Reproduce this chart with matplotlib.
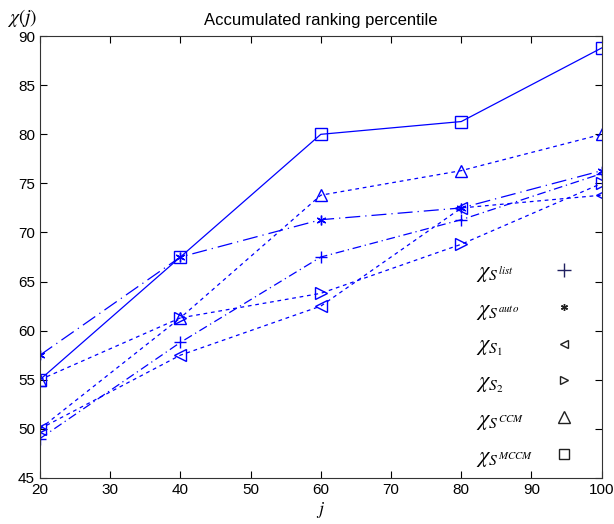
import matplotlib
matplotlib.use("Agg")
import matplotlib.pyplot as plt
from matplotlib.lines import Line2D

plt.rcParams['font.family'] = ['Liberation Sans', 'DejaVu Sans']
plt.rcParams['mathtext.fontset'] = 'stix'

j = [20, 40, 60, 80, 100]
chi_list = [49.0, 58.8, 67.5, 71.3, 76.0]
chi_auto = [57.5, 67.5, 71.3, 72.5, 76.3]
chi_s1 = [50.0, 57.5, 62.5, 72.5, 73.8]
chi_s2 = [50.0, 61.3, 63.8, 68.8, 75.0]
chi_ccm = [55.0, 61.3, 73.8, 76.3, 80.0]
chi_mccm = [55.0, 67.5, 80.0, 81.3, 88.8]

labels = [r'$\chi_{S^{list}}$', r'$\chi_{S^{auto}}$', r'$\chi_{S_1}$',
          r'$\chi_{S_2}$', r'$\chi_{S^{CCM}}$', r'$\chi_{S^{MCCM}}$']

fig = plt.figure(figsize=(6.14, 5.24), dpi=100)
ax = fig.add_axes([0.065, 0.088, 0.915, 0.843])

c = 'blue'
lw = 0.9
ms = 8
asterisk = (6, 2, 0)

ax.plot(j, chi_list, color=c, lw=lw, dashes=(7, 3, 1, 3), marker='+', ms=ms, mfc='none')
ax.plot(j, chi_auto, color=c, lw=lw, dashes=(12, 4, 1, 4), marker=asterisk, ms=ms - 1, mfc='none')
ax.plot(j, chi_s1, color=c, lw=lw, dashes=(3, 3), marker='<', ms=ms, mfc='none')
ax.plot(j, chi_s2, color=c, lw=lw, dashes=(3, 3), marker='>', ms=ms, mfc='none')
ax.plot(j, chi_ccm, color=c, lw=lw, dashes=(3, 3), marker='^', ms=ms, mfc='none')
ax.plot(j, chi_mccm, color=c, lw=lw, ls='-', marker='s', ms=ms, mfc='none')

mk_handles = [
    Line2D([], [], ls='none', marker='+', ms=10, color='#202060', mfc='none'),
    Line2D([], [], ls='none', marker=asterisk, ms=5, color='#202020', mfc='none'),
    Line2D([], [], ls='none', marker='<', ms=6, color='#202020', mfc='none'),
    Line2D([], [], ls='none', marker='>', ms=6, color='#202020', mfc='none'),
    Line2D([], [], ls='none', marker='^', ms=8, color='#202020', mfc='none'),
    Line2D([], [], ls='none', marker='s', ms=7, color='#202020', mfc='none'),
]
blank_handles = [Line2D([], [], ls='none') for _ in labels]

anchor = (0.74, -0.025)
common = dict(loc='lower left', bbox_to_anchor=anchor, frameon=False,
              fontsize=16, labelspacing=0.62)

# legend with the markers; its texts are invisible and serve to align markers
leg_m = ax.legend(mk_handles, labels, markerfirst=False, handlelength=1.0,
                  handletextpad=0.9, **common)
for t in leg_m.get_texts():
    t.set_alpha(0)
ax.add_artist(leg_m)

# legend with the visible, left-aligned texts
leg_t = ax.legend(blank_handles, labels, markerfirst=True, handlelength=0,
                  handletextpad=0, **common)

ax.set_xlim(20, 100)
ax.set_ylim(45, 90)
ax.set_xticks(list(range(20, 101, 10)))
ax.set_yticks(list(range(45, 91, 5)))
ax.tick_params(direction='in', top=True, right=True, labelsize=11, length=5)
for s in ax.spines.values():
    s.set_linewidth(0.8)
    s.set_color('#333333')

ax.set_title('Accumulated ranking percentile', fontsize=12, pad=8)
ax.set_xlabel(r'$j$', fontsize=13, labelpad=2)
fig.text(0.012, 0.965, r'$\chi(j)$', fontsize=14, ha='left', va='center')

fig.savefig('out.png', dpi=100)
